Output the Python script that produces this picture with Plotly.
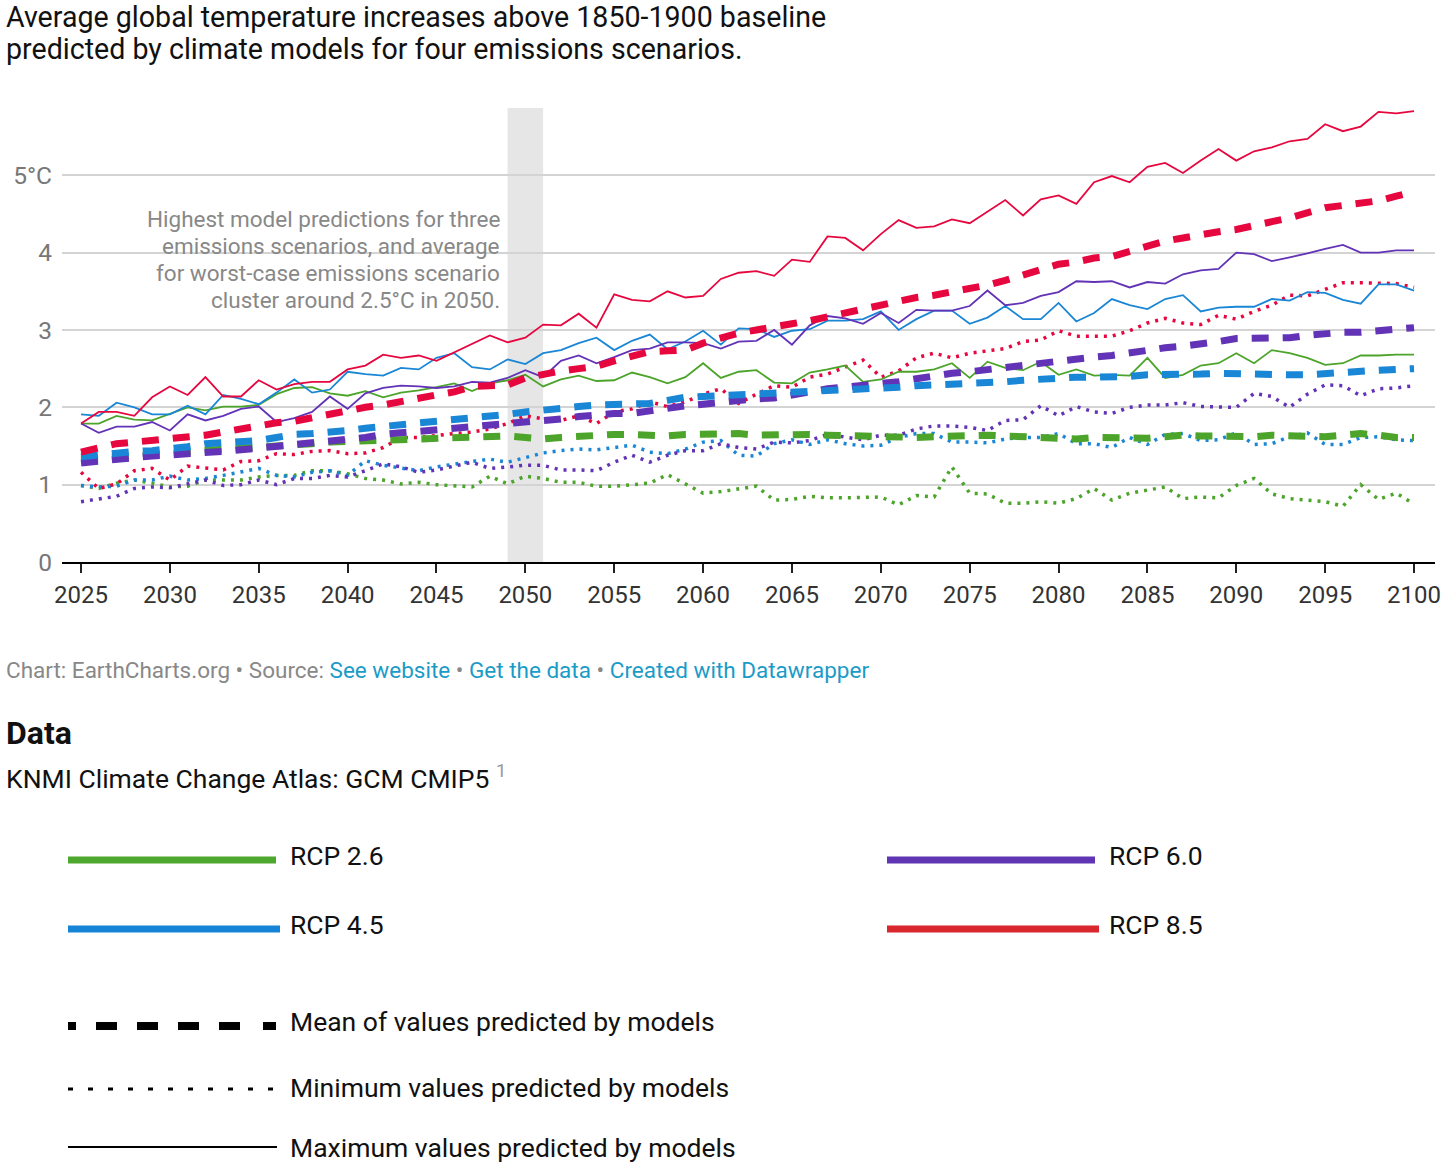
import plotly.graph_objects as go

years = list(range(2025, 2101))

rcp26_max = [1.79, 1.79, 1.89, 1.84, 1.83, 1.91, 2.00, 1.96, 2.01, 2.01,
             2.03, 2.17, 2.25, 2.26, 2.18, 2.15, 2.21, 2.13, 2.19, 2.22,
             2.26, 2.31, 2.21, 2.31, 2.35, 2.42, 2.27, 2.36, 2.41, 2.34,
             2.35, 2.45, 2.39, 2.31, 2.39, 2.57, 2.38, 2.46, 2.48, 2.32,
             2.31, 2.45, 2.49, 2.54, 2.33, 2.36, 2.46, 2.46, 2.49, 2.57,
             2.38, 2.59, 2.51, 2.48, 2.59, 2.42, 2.49, 2.41, 2.42, 2.41,
             2.64, 2.38, 2.42, 2.54, 2.57, 2.70, 2.57, 2.74, 2.70, 2.64,
             2.55, 2.57, 2.67, 2.67, 2.68, 2.68]
rcp26_mean = [1.32, 1.34, 1.36, 1.38, 1.39, 1.41, 1.43, 1.45, 1.46, 1.47,
              1.48, 1.50, 1.52, 1.53, 1.55, 1.56, 1.57, 1.57, 1.58, 1.59,
              1.60, 1.61, 1.62, 1.62, 1.63, 1.61, 1.59, 1.61, 1.63, 1.65,
              1.65, 1.65, 1.64, 1.63, 1.65, 1.66, 1.67, 1.66, 1.64, 1.65,
              1.66, 1.65, 1.64, 1.63, 1.63, 1.63, 1.62, 1.61, 1.62, 1.63,
              1.64, 1.64, 1.63, 1.62, 1.61, 1.60, 1.59, 1.61, 1.60, 1.59,
              1.60, 1.62, 1.64, 1.63, 1.62, 1.61, 1.62, 1.64, 1.63, 1.62,
              1.62, 1.64, 1.66, 1.64, 1.61, 1.61]
rcp26_min = [0.99, 0.95, 1.02, 1.06, 1.02, 0.97, 0.98, 1.06, 1.06, 1.06,
             1.10, 1.12, 1.12, 1.18, 1.18, 1.14, 1.08, 1.06, 1.01, 1.03,
             1.00, 0.98, 0.97, 1.11, 1.01, 1.11, 1.08, 1.03, 1.03, 0.98,
             0.98, 1.00, 1.02, 1.13, 1.01, 0.89, 0.91, 0.95, 0.98, 0.80,
             0.81, 0.85, 0.83, 0.83, 0.83, 0.84, 0.74, 0.86, 0.84, 1.23,
             0.89, 0.88, 0.76, 0.76, 0.78, 0.76, 0.82, 0.95, 0.80, 0.89,
             0.93, 0.97, 0.82, 0.84, 0.83, 0.99, 1.08, 0.88, 0.82, 0.80,
             0.78, 0.72, 1.00, 0.81, 0.89, 0.75]

rcp45_max = [1.91, 1.89, 2.06, 2.00, 1.91, 1.91, 2.02, 1.91, 2.16, 2.11,
             2.04, 2.19, 2.36, 2.19, 2.23, 2.46, 2.43, 2.41, 2.51, 2.49,
             2.64, 2.70, 2.52, 2.49, 2.62, 2.56, 2.70, 2.74, 2.83, 2.90,
             2.74, 2.86, 2.94, 2.75, 2.85, 2.99, 2.81, 3.02, 3.01, 2.91,
             2.99, 3.01, 3.12, 3.12, 3.14, 3.24, 3.00, 3.14, 3.25, 3.25,
             3.08, 3.16, 3.31, 3.14, 3.14, 3.35, 3.11, 3.22, 3.40, 3.32,
             3.27, 3.40, 3.45, 3.24, 3.29, 3.30, 3.30, 3.40, 3.38, 3.49,
             3.48, 3.39, 3.34, 3.59, 3.59, 3.51]
rcp45_mean = [1.36, 1.39, 1.42, 1.43, 1.44, 1.46, 1.49, 1.53, 1.54, 1.55,
              1.57, 1.61, 1.65, 1.66, 1.67, 1.70, 1.73, 1.75, 1.78, 1.80,
              1.81, 1.83, 1.85, 1.88, 1.91, 1.94, 1.97, 1.98, 2.01, 2.03,
              2.03, 2.04, 2.05, 2.09, 2.13, 2.14, 2.15, 2.16, 2.17, 2.18,
              2.20, 2.20, 2.21, 2.21, 2.23, 2.25, 2.26, 2.28, 2.29, 2.29,
              2.29, 2.31, 2.33, 2.35, 2.37, 2.39, 2.39, 2.39, 2.39, 2.40,
              2.42, 2.42, 2.41, 2.43, 2.44, 2.43, 2.43, 2.42, 2.42, 2.42,
              2.44, 2.46, 2.47, 2.48, 2.49, 2.50]
rcp45_min = [0.99, 0.97, 0.98, 1.06, 1.06, 1.11, 1.06, 1.08, 1.12, 1.16,
             1.21, 1.12, 1.10, 1.16, 1.18, 1.12, 1.31, 1.25, 1.21, 1.18,
             1.23, 1.27, 1.30, 1.33, 1.29, 1.35, 1.41, 1.44, 1.46, 1.45,
             1.48, 1.51, 1.42, 1.40, 1.46, 1.55, 1.57, 1.38, 1.37, 1.53,
             1.58, 1.52, 1.58, 1.53, 1.50, 1.51, 1.61, 1.66, 1.66, 1.55,
             1.55, 1.54, 1.59, 1.61, 1.61, 1.66, 1.53, 1.53, 1.48, 1.61,
             1.52, 1.65, 1.66, 1.57, 1.58, 1.67, 1.52, 1.53, 1.62, 1.67,
             1.52, 1.52, 1.61, 1.62, 1.58, 1.57]

rcp60_max = [1.79, 1.67, 1.75, 1.75, 1.81, 1.70, 1.91, 1.83, 1.89, 1.98,
             2.01, 1.81, 1.86, 1.94, 2.14, 1.98, 2.18, 2.25, 2.28, 2.27,
             2.25, 2.27, 2.33, 2.32, 2.38, 2.48, 2.39, 2.60, 2.67, 2.57,
             2.65, 2.74, 2.76, 2.84, 2.84, 2.83, 2.76, 2.85, 2.86, 3.00,
             2.81, 3.06, 3.18, 3.15, 3.08, 3.22, 3.09, 3.26, 3.25, 3.25,
             3.31, 3.51, 3.32, 3.35, 3.44, 3.49, 3.63, 3.62, 3.63, 3.55,
             3.62, 3.60, 3.72, 3.77, 3.79, 4.00, 3.98, 3.89, 3.94, 3.99,
             4.05, 4.10, 4.00, 4.00, 4.03, 4.03]
rcp60_mean = [1.28, 1.31, 1.33, 1.35, 1.37, 1.38, 1.39, 1.41, 1.43, 1.45,
              1.47, 1.49, 1.51, 1.53, 1.56, 1.58, 1.61, 1.65, 1.67, 1.68,
              1.69, 1.71, 1.74, 1.76, 1.78, 1.80, 1.82, 1.85, 1.88, 1.91,
              1.92, 1.92, 1.96, 1.99, 2.02, 2.04, 2.07, 2.10, 2.11, 2.12,
              2.15, 2.20, 2.24, 2.26, 2.28, 2.30, 2.33, 2.37, 2.41, 2.44,
              2.46, 2.49, 2.52, 2.55, 2.58, 2.61, 2.63, 2.65, 2.67, 2.71,
              2.75, 2.77, 2.79, 2.81, 2.85, 2.89, 2.89, 2.88, 2.90, 2.93,
              2.96, 2.97, 2.97, 2.99, 3.01, 3.03]
rcp60_min = [0.78, 0.81, 0.85, 0.95, 0.97, 0.96, 1.01, 1.06, 0.99, 1.00,
             1.06, 1.00, 1.08, 1.08, 1.12, 1.10, 1.18, 1.27, 1.23, 1.16,
             1.19, 1.24, 1.29, 1.21, 1.23, 1.25, 1.25, 1.19, 1.19, 1.18,
             1.29, 1.38, 1.29, 1.38, 1.44, 1.44, 1.53, 1.48, 1.46, 1.55,
             1.54, 1.57, 1.65, 1.62, 1.58, 1.64, 1.64, 1.72, 1.76, 1.76,
             1.74, 1.70, 1.83, 1.84, 2.02, 1.89, 2.01, 1.94, 1.92, 2.00,
             2.03, 2.03, 2.06, 2.01, 2.01, 2.00, 2.18, 2.14, 2.00, 2.17,
             2.29, 2.28, 2.15, 2.24, 2.25, 2.28]

rcp85_max = [1.79, 1.94, 1.94, 1.89, 2.13, 2.27, 2.16, 2.39, 2.14, 2.14,
             2.35, 2.23, 2.30, 2.33, 2.33, 2.49, 2.54, 2.68, 2.64, 2.67,
             2.60, 2.71, 2.81, 2.93, 2.84, 2.90, 3.07, 3.06, 3.21, 3.03,
             3.46, 3.39, 3.37, 3.50, 3.42, 3.44, 3.66, 3.74, 3.76, 3.70,
             3.91, 3.88, 4.21, 4.19, 4.03, 4.24, 4.42, 4.32, 4.34, 4.43,
             4.38, 4.53, 4.68, 4.48, 4.69, 4.74, 4.63, 4.91, 4.99, 4.91,
             5.11, 5.16, 5.03, 5.19, 5.34, 5.19, 5.31, 5.36, 5.44, 5.47,
             5.66, 5.57, 5.63, 5.82, 5.80, 5.83]
rcp85_mean = [1.42, 1.48, 1.53, 1.55, 1.57, 1.58, 1.61, 1.64, 1.68, 1.72,
              1.77, 1.80, 1.82, 1.87, 1.92, 1.97, 2.00, 2.03, 2.08, 2.12,
              2.16, 2.20, 2.27, 2.28, 2.29, 2.38, 2.43, 2.47, 2.50, 2.53,
              2.60, 2.66, 2.72, 2.73, 2.74, 2.83, 2.90, 2.96, 3.00, 3.03,
              3.08, 3.12, 3.17, 3.23, 3.27, 3.32, 3.37, 3.42, 3.45, 3.49,
              3.53, 3.58, 3.64, 3.71, 3.80, 3.85, 3.88, 3.93, 3.95, 4.02,
              4.10, 4.15, 4.19, 4.24, 4.27, 4.30, 4.36, 4.40, 4.45, 4.52,
              4.58, 4.61, 4.63, 4.67, 4.73, 4.79]
rcp85_min = [1.16, 0.95, 1.01, 1.18, 1.21, 1.06, 1.24, 1.21, 1.19, 1.30,
             1.31, 1.40, 1.39, 1.43, 1.44, 1.40, 1.41, 1.48, 1.61, 1.61,
             1.64, 1.66, 1.68, 1.72, 1.79, 1.89, 1.85, 1.83, 1.89, 1.79,
             1.94, 1.98, 2.07, 2.01, 2.07, 2.17, 2.24, 2.05, 2.17, 2.28,
             2.26, 2.39, 2.43, 2.52, 2.61, 2.39, 2.47, 2.64, 2.70, 2.64,
             2.70, 2.73, 2.76, 2.85, 2.87, 2.99, 2.92, 2.92, 2.92, 2.99,
             3.09, 3.15, 3.09, 3.07, 3.19, 3.14, 3.24, 3.32, 3.45, 3.44,
             3.52, 3.61, 3.61, 3.60, 3.60, 3.55]

y_tickvals = [0, 1, 2, 3, 4, 5]
y_ticktext = ["0", "1", "2", "3", "4", "5°C"]
highlight_years = [2049, 2051]

title_lines = ["Average global temperature increases above 1850-1900 baseline",
               "predicted by climate models for four emissions scenarios."]
note_lines = ["Highest model predictions for three", "emissions scenarios, and average",
              "for worst-case emissions scenario", "cluster around 2.5°C in 2050."]

scenarios = ["RCP 2.6", "RCP 4.5", "RCP 6.0", "RCP 8.5"]
line_colors = {"RCP 2.6": "#4ca42a", "RCP 4.5": "#1a86d6", "RCP 6.0": "#6233b6", "RCP 8.5": "#e6073f"}
legend_colors = {"RCP 2.6": "#4ea72e", "RCP 4.5": "#1584d6", "RCP 6.0": "#5f35b3", "RCP 8.5": "#d9272e"}
data = {
    "RCP 2.6": (rcp26_min, rcp26_mean, rcp26_max),
    "RCP 4.5": (rcp45_min, rcp45_mean, rcp45_max),
    "RCP 6.0": (rcp60_min, rcp60_mean, rcp60_max),
    "RCP 8.5": (rcp85_min, rcp85_mean, rcp85_max),
}
for k, v in data.items():
    for s in v:
        assert len(s) == len(years), (k, len(s))

W, H = 1456, 1165
L, R, T, B = 62, 21, 108, 603
PW = W - L - R
PH = H - T - B


def px(X):
    return (X - L) / PW


def py(Y):
    return (H - B - Y) / PH


FONT = "Roboto, 'Noto Sans', sans-serif"

fig = go.Figure()

# minimum values (dotted)
for sc in scenarios:
    fig.add_trace(go.Scatter(x=years, y=data[sc][0], mode="lines", name=sc + " min",
                             line=dict(color=line_colors[sc], width=3.5, dash="3px,6px"),
                             hoverinfo="skip", showlegend=False))
# maximum values (thin solid)
for sc in scenarios:
    fig.add_trace(go.Scatter(x=years, y=data[sc][2], mode="lines", name=sc + " max",
                             line=dict(color=line_colors[sc], width=1.8),
                             hoverinfo="skip", showlegend=False))
# mean values (thick dashes)
for sc in ["RCP 2.6", "RCP 6.0", "RCP 4.5", "RCP 8.5"]:
    fig.add_trace(go.Scatter(x=years, y=data[sc][1], mode="lines", name=sc + " mean",
                             line=dict(color=line_colors[sc], width=7, dash="17px,14px"),
                             hoverinfo="skip", showlegend=False))

shapes = []
# 2050 highlight band
shapes.append(dict(type="rect", xref="x", yref="paper", x0=highlight_years[0], x1=highlight_years[1],
                   y0=0, y1=1, fillcolor="#e6e6e6", line=dict(width=0), layer="below"))

annotations = []
# title (one annotation per line)
for i, line in enumerate(title_lines):
    annotations.append(dict(xref="paper", yref="paper", x=px(4), y=py(17 + 32 * i),
                            xanchor="left", yanchor="middle", text=line, showarrow=False,
                            font=dict(family=FONT, size=28.6, color="#111111")))

# note in the chart
for i, line in enumerate(note_lines):
    annotations.append(dict(xref="paper", yref="paper", x=px(502), y=py(219 + 27 * i),
                            xanchor="right", yanchor="middle", text=line, showarrow=False,
                            font=dict(family=FONT, size=22.5, color="#888888")))

# footer
annotations.append(dict(
    xref="paper", yref="paper", x=px(4), y=py(670), xanchor="left", yanchor="middle",
    text="Chart: EarthCharts.org • Source: <span style='color:#1a9bc8'>See website</span> • "
         "<span style='color:#1a9bc8'>Get the data</span> • "
         "<span style='color:#1a9bc8'>Created with Datawrapper</span>",
    showarrow=False, font=dict(family=FONT, size=22.5, color="#888888")))
annotations.append(dict(
    xref="paper", yref="paper", x=px(4), y=py(733), xanchor="left", yanchor="middle",
    text="<b>Data</b>", showarrow=False, font=dict(family=FONT, size=32, color="#111111")))
annotations.append(dict(
    xref="paper", yref="paper", x=px(4), y=py(777), xanchor="left", yanchor="middle",
    text="KNMI Climate Change Atlas: GCM CMIP5 <sup><span style='color:#999999'>1</span></sup>",
    showarrow=False, font=dict(family=FONT, size=26.5, color="#111111")))

# legend swatches (colours)
legend_pos = {"RCP 2.6": (68, 276, 860, 288), "RCP 4.5": (68, 280, 929, 288),
              "RCP 6.0": (887, 1095, 860, 1107), "RCP 8.5": (887, 1099, 929, 1107)}
for sc in scenarios:
    x0, x1, yy, tx = legend_pos[sc]
    shapes.append(dict(type="line", xref="paper", yref="paper", x0=px(x0), x1=px(x1),
                       y0=py(yy), y1=py(yy), line=dict(color=legend_colors[sc], width=7)))
    annotations.append(dict(xref="paper", yref="paper", x=px(tx),
                            y=py(yy - 5), xanchor="left", yanchor="middle", text=sc, showarrow=False,
                            font=dict(family=FONT, size=26.5, color="#111111")))

# legend line styles
style_items = [
    ("Mean of values predicted by models", 1026, 8,
     "8px,20px,21px,20px,21px,20px,21px,20px,21px,23px,13px,200px", 1021),
    ("Minimum values predicted by models", 1089, 3, "5px,15px", 1087),
    ("Maximum values predicted by models", 1147, 2, "solid", 1147),
]
for label, yy, w, dash, ty in style_items:
    shapes.append(dict(type="line", xref="paper", yref="paper", x0=px(68), x1=px(277),
                       y0=py(yy), y1=py(yy), line=dict(color="#000000", width=w, dash=dash)))
    annotations.append(dict(xref="paper", yref="paper", x=px(288), y=py(ty), xanchor="left",
                            yanchor="middle", text=label, showarrow=False,
                            font=dict(family=FONT, size=26.5, color="#111111")))

fig.update_layout(
    width=W, height=H,
    margin=dict(l=L, r=R, t=T, b=B, pad=0),
    paper_bgcolor="white", plot_bgcolor="white",
    font=dict(family=FONT, color="#333333"),
    showlegend=False,
    shapes=shapes,
    annotations=annotations,
    xaxis=dict(range=[2023.93, 2101.18], tickmode="linear", tick0=2025, dtick=5,
               showgrid=False, zeroline=False, showline=True, linecolor="#000000", linewidth=2,
               ticks="outside", ticklen=9, tickwidth=2, tickcolor="#222222",
               tickfont=dict(family=FONT, size=24, color="#333333"), ticklabelstandoff=1),
    yaxis=dict(range=[0, 5.87], tickvals=y_tickvals, ticktext=y_ticktext,
               showgrid=True, gridcolor="#d4d4d4", gridwidth=2, zeroline=False, showline=False,
               ticks="", tickfont=dict(family=FONT, size=24.5, color="#777777"), ticklabelstandoff=9),
)

fig.write_html("out.html")
